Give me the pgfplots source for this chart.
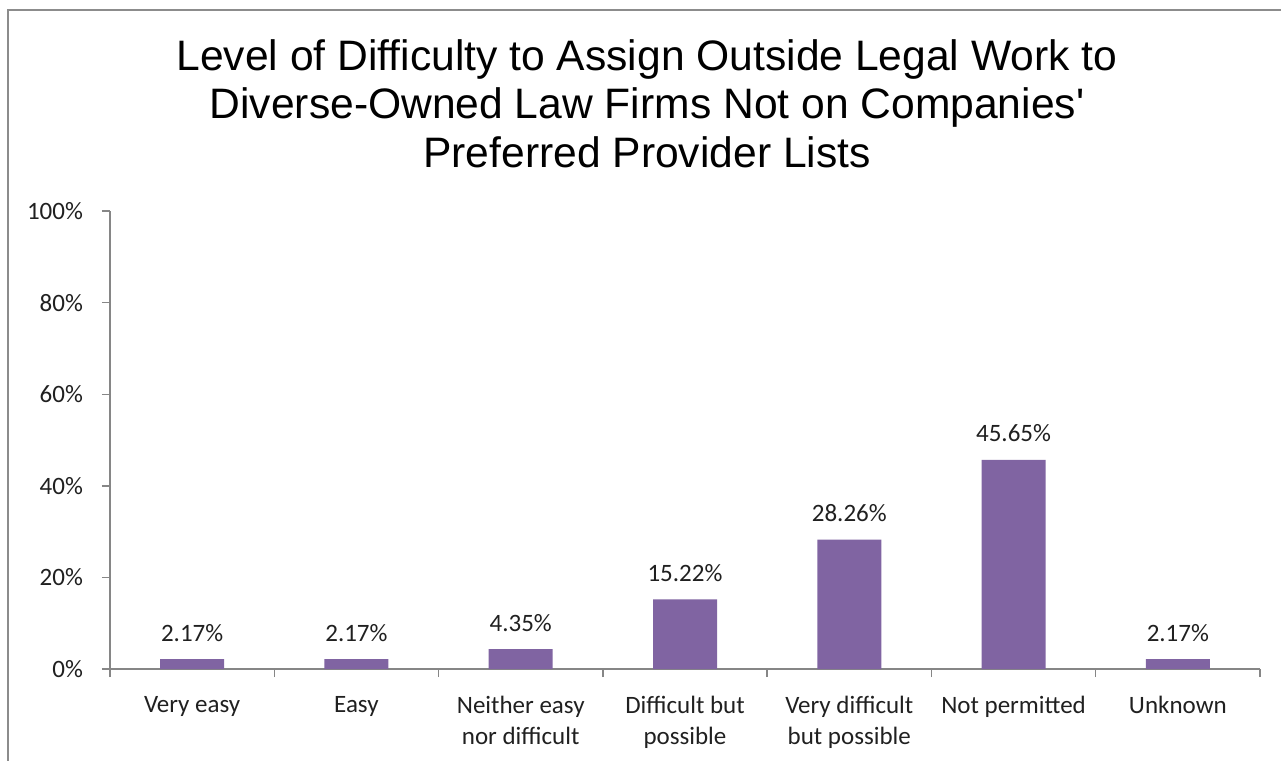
\documentclass[border=0pt]{standalone}
\usepackage{pgfplots}
\pgfplotsset{compat=1.18}
\usepackage{fontspec}
\setmainfont{Carlito}
\newfontfamily\arial{Liberation Sans}
\definecolor{barpurple}{HTML}{8064A2}
\definecolor{axisgray}{HTML}{868686}
\definecolor{framegray}{HTML}{8C8C8C}
\definecolor{labeltext}{HTML}{202020}

\begin{document}
\begin{tikzpicture}
\begin{axis}[
  at={(0,0)}, anchor=south west,
  scale only axis, width=575pt, height=229pt,
  xmin=-0.5, xmax=6.5, ymin=0, ymax=100,
  axis lines*=left,
  axis line style={axisgray, line width=0.7pt},
  ybar, bar width=32pt,
  tick align=outside,
  xtick={0,...,6},
  xticklabels={Very easy, Easy, {Neither easy\\nor difficult}, {Difficult but\\possible},
    {Very difficult\\but possible}, Not permitted, Unknown},
  major x tick style={draw=none},
  minor xtick={-0.5,0.5,...,6.5},
  minor tick length=4pt,
  minor x tick style={axisgray, line width=0.7pt},
  x tick label style={align=center, font=\fontsize{12.5}{15.5}\selectfont, text=labeltext, yshift=-6pt},
  ytick={0,20,...,100},
  major tick length=4pt,
  y tick style={axisgray, line width=0.7pt},
  yticklabel={\pgfmathprintnumber{\tick}\%},
  y tick label style={font=\fontsize{12.5}{15}\selectfont, text=labeltext, xshift=-6pt},
  /pgf/number format/assume math mode=true,
  nodes near coords={\pgfmathprintnumber[fixed,fixed zerofill,precision=2]{\pgfplotspointmeta}\%},
  nodes near coords style={font=\fontsize{12.5}{15}\selectfont, text=labeltext, anchor=base, yshift=9pt},
  clip=false,
]
\addplot[fill=barpurple, draw=none] coordinates {
  (0,2.17) (1,2.17) (2,4.35) (3,15.22) (4,28.26) (5,45.65) (6,2.17)};
\end{axis}
\begin{scope}[every node/.style={font=\arial\fontsize{21.3}{24}\selectfont, anchor=base}]
\node at (268.5pt,299pt) {Level of Difficulty to Assign Outside Legal Work to};
\node at (268.5pt,275pt) {Diverse-Owned Law Firms Not on Companies'};
\node at (268.5pt,250.5pt) {Preferred Provider Lists};
\end{scope}
\draw[framegray, line width=0.8pt] (-51pt,-46pt) -- (-51pt,329.5pt) -- (585.5pt,329.5pt);
\pgfresetboundingbox
\path[use as bounding box] (-55pt,-46pt) rectangle (585.5pt,334.5pt);
\end{tikzpicture}
\end{document}
